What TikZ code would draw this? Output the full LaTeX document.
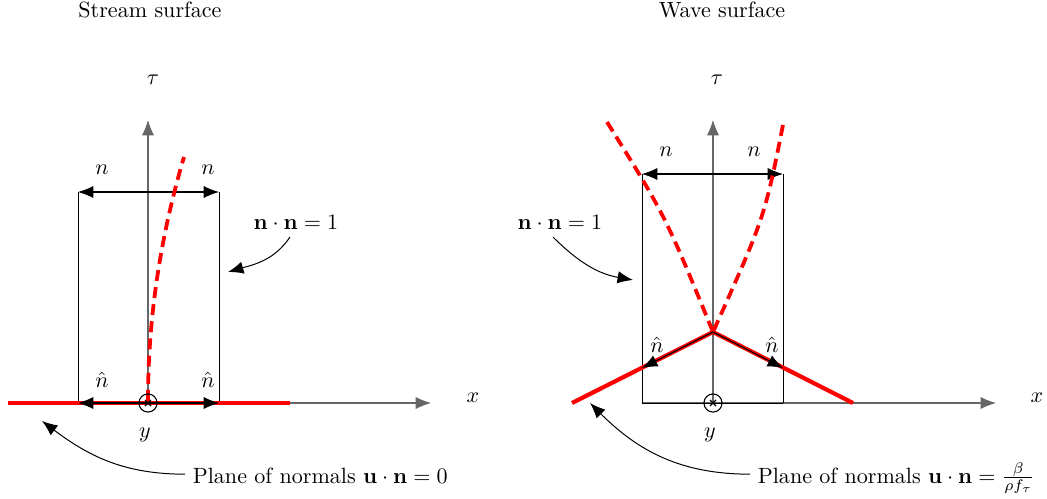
\documentclass[tikz,border=0pt]{standalone}
\usetikzlibrary{arrows.meta}
\begin{document}
\begin{tikzpicture}[x=0.4531pt,y=-0.4531pt,
  tip/.tip={Latex[length=7pt,width=5.6pt]},
  axisline/.style={draw=black!60, line width=0.5pt, -tip},
  frame/.style={draw=black, line width=0.45pt},
  arr/.style={draw=black, line width=0.5pt, -tip},
  dblarr/.style={draw=black, line width=0.5pt, tip-tip},
  plane/.style={draw=red, line width=1.9pt, line join=round},
  surf/.style={draw=red, line width=1.7pt, dash pattern=on 5pt off 2.8pt},
  ptr/.style={draw=black, line width=0.45pt, -tip},
  ycirc/.style={circle, draw=black, line width=0.5pt, minimum size=8.2pt, inner sep=0pt}]
\useasboundingbox (0,0) rectangle (1047,499);

% ---------------- left panel: stream surface ----------------
\coordinate (O1) at (148,403);
\coordinate (T1) at (148,120);
\coordinate (X1) at (431,403);
\coordinate (A1) at (78,192);
\coordinate (B1) at (219,192);
\coordinate (C1) at (78,403);
\coordinate (D1) at (219,403);
\coordinate (P1a) at (8,403);
\coordinate (P1b) at (290,403);

\draw[frame] (C1) -- (A1) (B1) -- (D1) (C1) -- (D1);
\draw[axisline] (O1) -- (T1);
\draw[axisline] (O1) -- (X1);
\draw[plane] (P1a) -- (P1b);
\draw[dblarr] (A1) -- (B1);
\draw[arr] (O1) -- (C1);
\draw[arr] (O1) -- (D1);
\draw[surf] (148,401) .. controls (148,319) and (160,238) .. (184,157);
\node[ycirc] (Y1) at (O1) {};
\draw[line width=0.5pt] (O1) ++(-3,-3) -- ++(6,6) (O1) ++(-3,3) -- ++(6,-6);

\node (title1) at (150,10) {Stream surface};
\node (tau1) at (153,80) {$\tau$};
\node (n1a) at (102,170) {$n$};
\node (n1b) at (208,170) {$n$};
\node (nh1a) at (102,380) {$\hat{n}$};
\node (nh1b) at (208,380) {$\hat{n}$};
\node (x1) at (473,398) {$x$};
\node (y1) at (145,435) {$y$};
\node (nn1) at (296,222) {$\mathbf{n}\cdot\mathbf{n}=1$};
\node[anchor=base west] (pl1) at (185,483) {Plane of normals $\mathbf{u}\cdot\mathbf{n}=0$};

\coordinate (s1) at (290,237);
\coordinate (e1) at (228,272);
\coordinate (f1) at (42,421);
\draw[ptr] (s1) to[out=-124,in=16] (e1);
\draw[ptr] ([yshift=4pt]pl1.base west) to[out=180,in=-37] (f1);

% ---------------- right panel: wave surface ----------------
\coordinate (O2) at (713,403);
\coordinate (T2) at (713,120);
\coordinate (X2) at (996,403);
\coordinate (A2) at (642,174);
\coordinate (B2) at (783,174);
\coordinate (C2) at (642,403);
\coordinate (D2) at (783,403);
\coordinate (V2) at (713,332);
\coordinate (P2a) at (572,403);
\coordinate (P2b) at (853,403);
\coordinate (L2) at (642,368);
\coordinate (R2) at (783,368);

\draw[axisline] (O2) -- (T2);
\draw[axisline] (C2) -- (X2);
\draw[frame] (C2) -- (A2) (B2) -- (D2) (C2) -- (D2);
\draw[plane] (P2a) -- (V2) -- (P2b);
\draw[dblarr] (A2) -- (B2);
\draw[arr] (V2) -- (L2);
\draw[arr] (V2) -- (R2);
\draw[surf] (607,122) .. controls (665,215) .. (713,332);
\draw[surf] (783,125) .. controls (764.5,217.6) .. (713,332);
\node[ycirc] (Y2) at (O2) {};
\draw[line width=0.5pt] (O2) ++(-3,-3) -- ++(6,6) (O2) ++(-3,3) -- ++(6,-6);

\node (title2) at (722,10) {Wave surface};
\node (tau2) at (717,80) {$\tau$};
\node (n2a) at (666,152) {$n$};
\node (n2b) at (754,152) {$n$};
\node (nh2a) at (657,345) {$\hat{n}$};
\node (nh2b) at (772,345) {$\hat{n}$};
\node (x2) at (1037,398) {$x$};
\node (y2) at (710,435) {$y$};
\node (nn2) at (560,222) {$\mathbf{n}\cdot\mathbf{n}=1$};
\node[anchor=base west] (pl2) at (750,483) {Plane of normals $\mathbf{u}\cdot\mathbf{n}=\frac{\beta}{\rho f_\tau}$};

\coordinate (s2) at (553,237);
\coordinate (e2) at (633,280);
\coordinate (f2) at (590,403);
\draw[ptr] (s2) to[out=-45,in=170] (e2);
\draw[ptr] ([yshift=4pt]pl2.base west) to[out=180,in=-45] (f2);
\end{tikzpicture}
\end{document}
